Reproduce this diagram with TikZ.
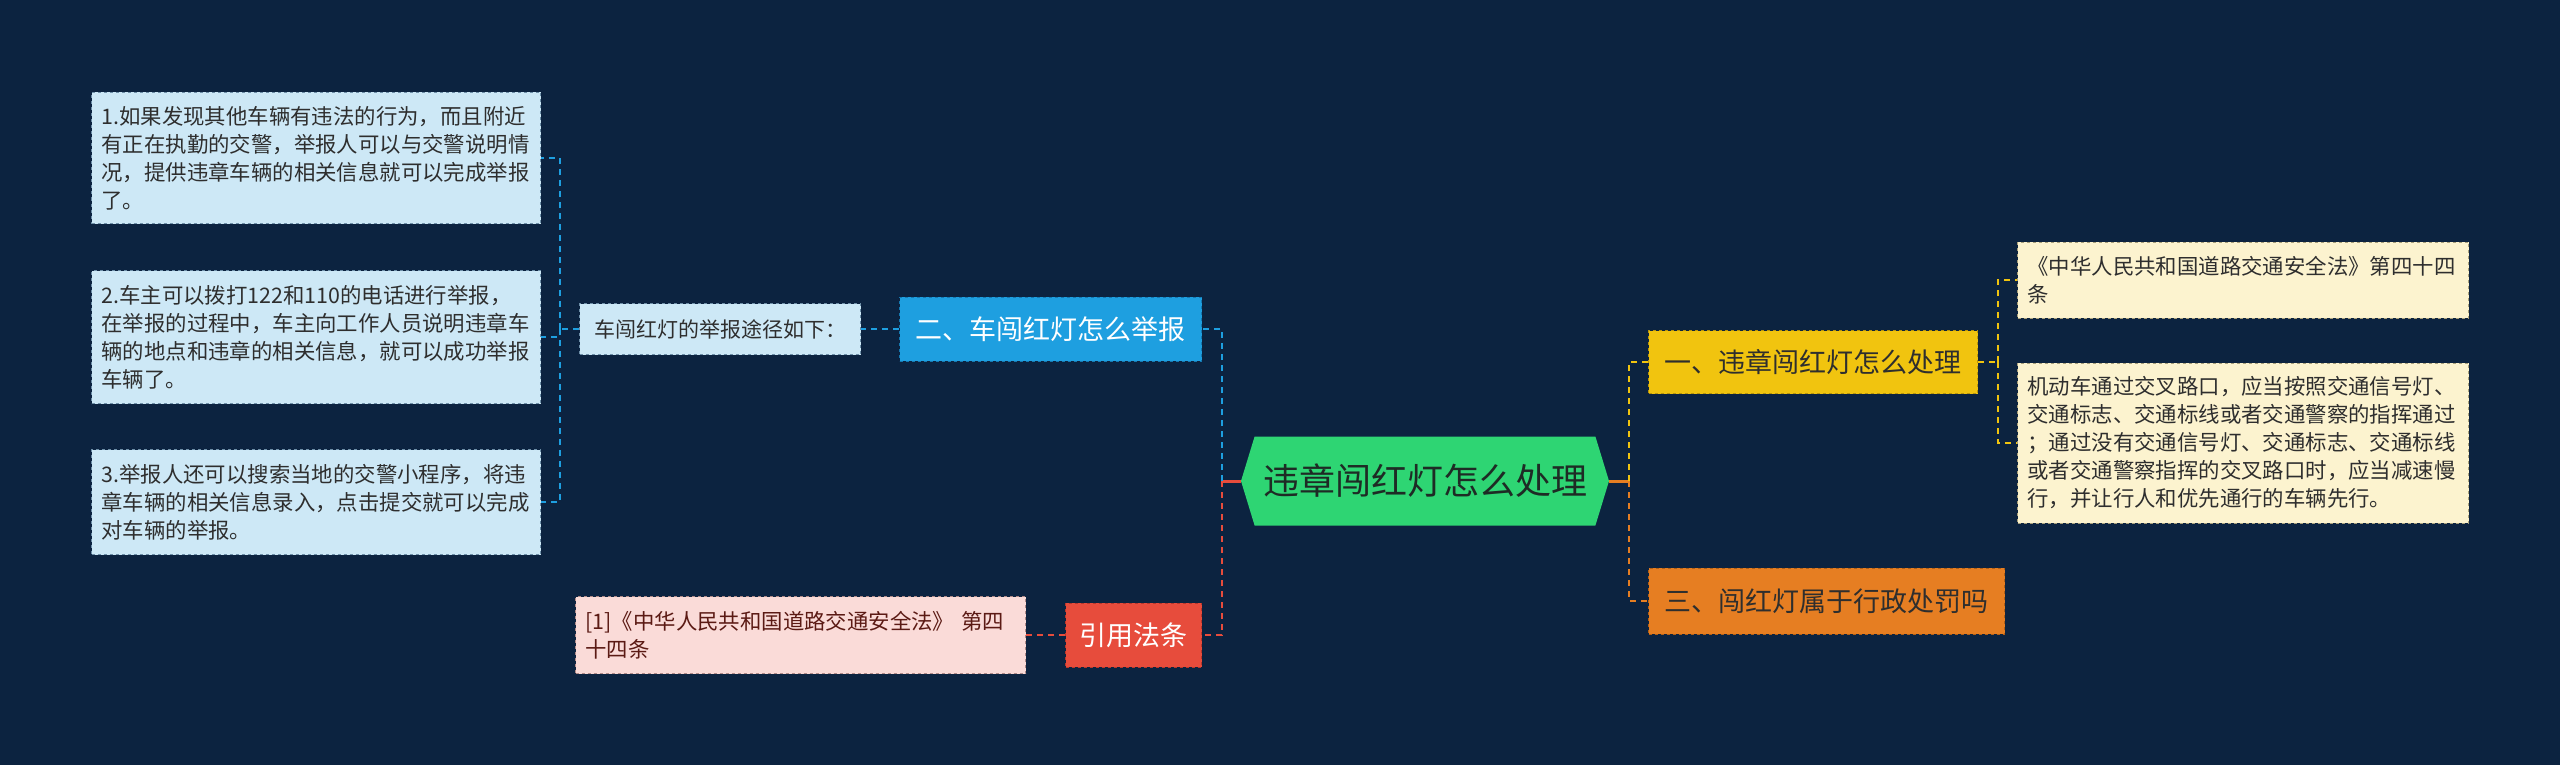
\documentclass[tikz,border=0pt]{standalone}
\usepackage{fontspec}
\setmainfont{Noto Sans CJK SC}
\usepackage{xcolor}
\usetikzlibrary{shapes,arrows,positioning,fit,calc}

\definecolor{bgnavy}{HTML}{0C2340}
\definecolor{leafblue}{HTML}{CDE8F6}
\definecolor{leafbluerd}{HTML}{6E8FA8}
\definecolor{bluebr}{HTML}{1E9FE0}
\definecolor{bluebrd}{HTML}{1578B0}
\definecolor{rootgreen}{HTML}{2ED573}
\definecolor{rootdark}{HTML}{1E2B25}
\definecolor{redbr}{HTML}{E74C3C}
\definecolor{redbrd}{HTML}{B8362A}
\definecolor{pinkleaf}{HTML}{FADBD8}
\definecolor{pinkrd}{HTML}{B08A88}
\definecolor{pinktext}{HTML}{5B1A14}
\definecolor{yellowbr}{HTML}{F1C40F}
\definecolor{yellowbrd}{HTML}{B8940A}
\definecolor{orangebr}{HTML}{E67E22}
\definecolor{orangebrd}{HTML}{B25F15}
\definecolor{beige}{HTML}{FCF3CF}
\definecolor{beigerd}{HTML}{A89F7A}
\definecolor{textdark}{HTML}{2E2E2E}

\begin{document}
\begin{tikzpicture}[
    x=1pt, y=-1pt,
    node distance=40pt,
    rootnode/.style={signal, signal to=west and east, signal pointer angle=146, fill=rootgreen, text=rootdark, font=\fontsize{36}{44}\selectfont, minimum width=368pt, minimum height=89pt, inner sep=0pt},
    branch/.style={rectangle, draw, dashed, line width=1pt, font=\fontsize{27}{34}\selectfont, minimum height=64pt, inner xsep=16pt},
    leaf/.style={rectangle, draw, dashed, line width=1pt, font=\fontsize{21.4}{28}\selectfont, align=left, inner xsep=10pt},
    link/.style={line width=2pt, dash pattern=on 6pt off 5pt},
    rootlink/.style={line width=3pt}
]

\useasboundingbox (0,0) rectangle (2560,765);
\fill[bgnavy] (0,0) rectangle (2560,765);

% Nodes
\node[rootnode] (root) at (1425,481) {违章闯红灯怎么处理};

\node[branch, fill=bluebr, draw=bluebrd, text=white, anchor=east] (report) at (1202,329) {二、车闯红灯怎么举报};
\node[leaf, fill=leafblue, draw=leafbluerd, text=textdark, minimum width=281pt, minimum height=51pt, left=38pt of report, font=\fontsize{21}{28}\selectfont] (ways) {车闯红灯的举报途径如下：};
\node[leaf, fill=leafblue, draw=leafbluerd, text=textdark, text width=429pt, minimum height=133pt, left=38pt of ways, yshift=-8pt] (way2) {2.车主可以拨打122和110的电话进行举报，\\在举报的过程中，车主向工作人员说明违章车\\辆的地点和违章的相关信息，就可以成功举报\\车辆了。};
\node[leaf, fill=leafblue, draw=leafbluerd, text=textdark, text width=429pt, minimum height=131pt, above=46pt of way2] (way1) {1.如果发现其他车辆有违法的行为，而且附近\\有正在执勤的交警，举报人可以与交警说明情\\况，提供违章车辆的相关信息就可以完成举报\\了。};
\node[leaf, fill=leafblue, draw=leafbluerd, text=textdark, text width=429pt, minimum height=105pt, below=45pt of way2] (way3) {3.举报人还可以搜索当地的交警小程序，将违\\章车辆的相关信息录入，点击提交就可以完成\\对车辆的举报。};

\node[branch, fill=redbr, draw=redbrd, text=white, inner xsep=14pt, anchor=east] (cite) at (1202,635) {引用法条};
\node[leaf, fill=pinkleaf, draw=pinkrd, text=pinktext, text width=430pt, minimum height=77pt, left=39pt of cite] (law) {[1]《中华人民共和国道路交通安全法》 第四\\十四条};

\node[branch, fill=yellowbr, draw=yellowbrd, text=textdark, minimum height=63pt, anchor=west] (handle) at (1648,362) {一、违章闯红灯怎么处理};
\node[branch, fill=orangebr, draw=orangebrd, text=textdark, minimum height=66pt, anchor=west] (penalty) at (1648,601) {三、闯红灯属于行政处罚吗};
\node[leaf, fill=beige, draw=beigerd, text=textdark, text width=431pt, minimum height=76pt, right=39pt of handle, yshift=82pt] (art) {《中华人民共和国道路交通安全法》第四十四\\条};
\node[leaf, fill=beige, draw=beigerd, text=textdark, text width=431pt, minimum height=160pt, right=39pt of handle, yshift=-81pt] (rule) {机动车通过交叉路口，应当按照交通信号灯、\\交通标志、交通标线或者交通警察的指挥通过\\；通过没有交通信号灯、交通标志、交通标线\\或者交通警察指挥的交叉路口时，应当减速慢\\行，并让行人和优先通行的车辆先行。};

% Junctions
\coordinate (jl) at ([xshift=-19pt]root.west);
\coordinate (jr) at ([xshift=20pt]root.east);
\coordinate (jw) at ([xshift=-19pt]ways.west);
\coordinate (jh) at ([xshift=20pt]handle.east);

% Connectors
\draw[rootlink, redbr] (root.west) -- (jl);
\draw[link, bluebr] (jl) |- (report.east);
\draw[link, redbr] (jl) |- (cite.east);
\draw[rootlink, orangebr] (root.east) -- (jr);
\draw[link, yellowbr] (jr) |- (handle.west);
\draw[link, orangebr] (jr) |- (penalty.west);
\draw[link, bluebr] (report.west) -- (ways.east);
\draw[link, bluebr] (ways.west) -- (jw);
\draw[link, bluebr] (jw) |- (way1.east);
\draw[link, bluebr] (jw) |- (way2.east);
\draw[link, bluebr] (jw) |- (way3.east);
\draw[link, redbr] (cite.west) -- (law.east);
\draw[link, yellowbr] (handle.east) -- (jh);
\draw[link, yellowbr] (jh) |- (art.west);
\draw[link, yellowbr] (jh) |- (rule.west);

\end{tikzpicture}
\end{document}
